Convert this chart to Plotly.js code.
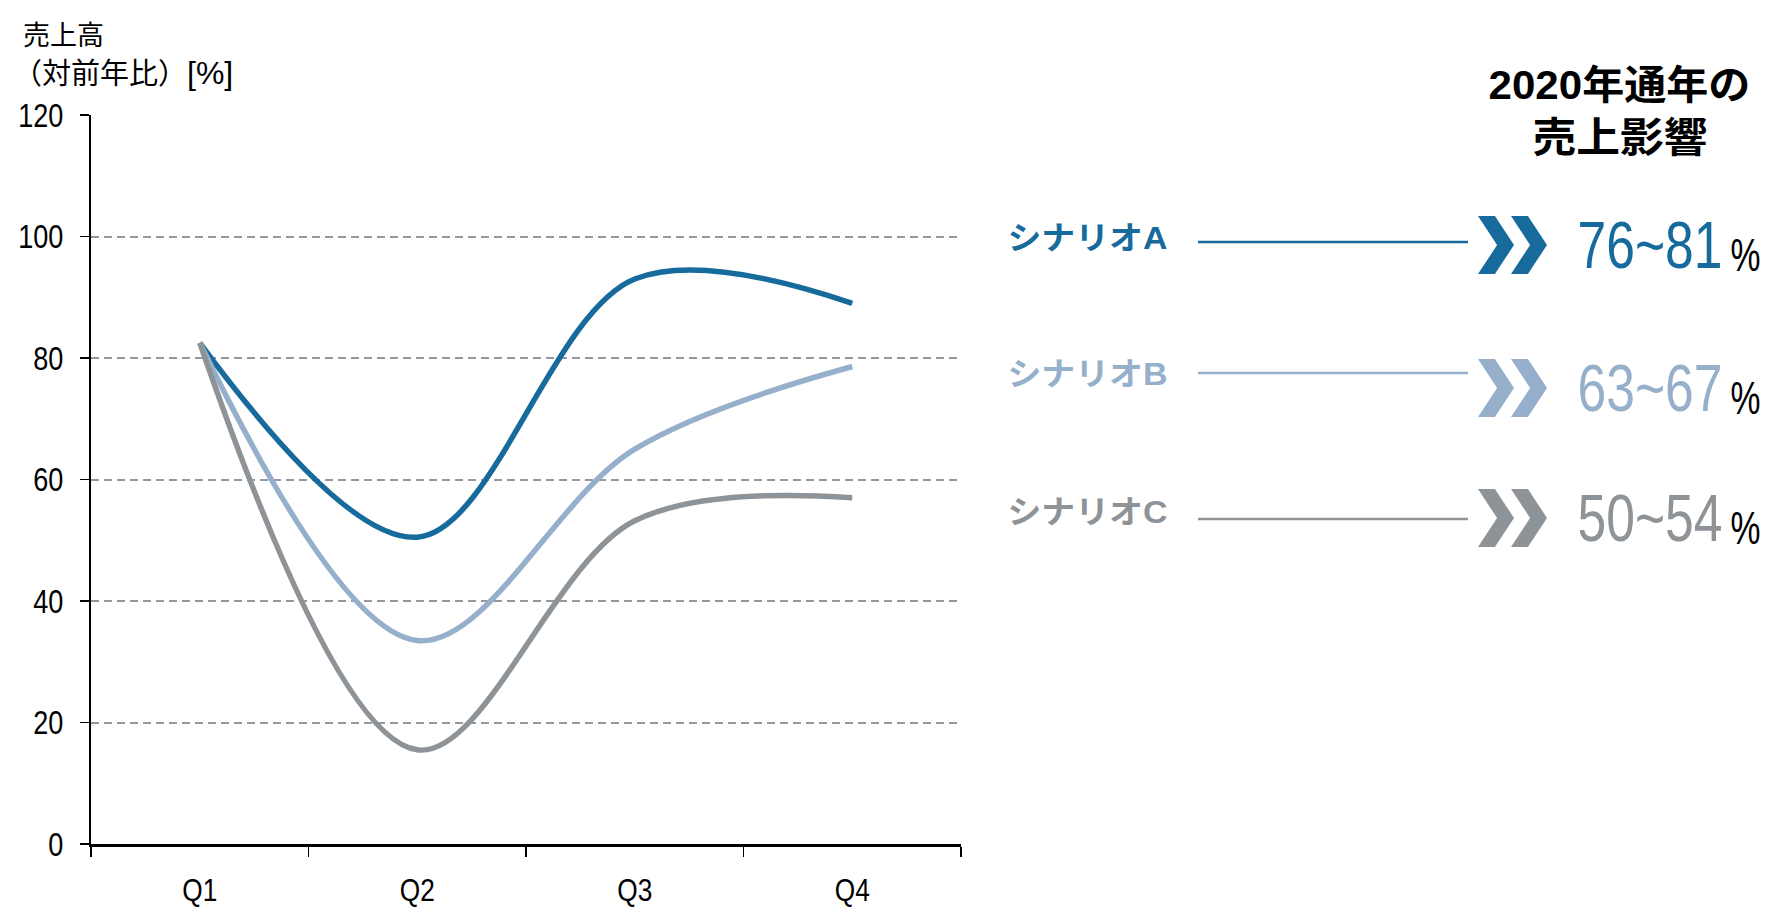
<!DOCTYPE html>
<html>
<head>
<meta charset="utf-8">
<script src="https://cdn.plot.ly/plotly-3.0.1.min.js"></script>
<style>html,body{margin:0;padding:0;background:#fff;}#chart{width:1769px;height:916px;}</style>
</head>
<body>
<div id="chart"></div>
<script>
// ---- data ----
const quarters = ["Q1", "Q2", "Q3", "Q4"];
const scenarioNames = ["シナリオA", "シナリオB", "シナリオC"];
const scenarioA = [82.5, 50.5, 93, 89];
const scenarioB = [82.5, 33.5, 65, 78.6];
const scenarioC = [82.5, 15.5, 53.2, 57];
const impactRanges = ["76~81", "63~67", "50~54"];
const yTicks = [0, 20, 40, 60, 80, 100, 120];
const colors = ["#176b9c", "#96b0cc", "#8e9398"];

// ---- geometry helpers (pixel -> paper) ----
const W = 1769, H = 916;
const L = 91, R = 961, T = 115, B = 844;
const px = x => (x - L) / (R - L);
const py = y => (B - y) / (B - T);

const SANS = '"Liberation Sans", Arial, sans-serif';
const JP = '"Noto Sans CJK JP", "Noto Sans", sans-serif';
const MIX = '"Liberation Sans", "Noto Sans CJK JP", sans-serif';

const series = [scenarioA, scenarioB, scenarioC];
const traces = series.map((vals, i) => ({
  type: 'scatter', mode: 'lines',
  x: quarters, y: vals, name: scenarioNames[i],
  line: {color: colors[i], width: 5.5, shape: 'spline', smoothing: 1},
  hoverinfo: 'skip', showlegend: false
}));

const shapes = [];
const annotations = [];
const fitWidths = []; // [annotation index, target width px]

function addAnn(a, width) {
  const ann = Object.assign({xref:'paper', yref:'paper', showarrow:false, yanchor:'middle', borderpad:0}, a);
  if (width) { ann.width = width; }
  annotations.push(ann);
  if (width) fitWidths.push([annotations.length - 1, width]);
}

// y title
addAnn({x: px(22), y: py(34), xanchor:'left', align:'left', text:'売上高', font:{family: JP, size: 27, color:'#000'}});
addAnn({x: px(12), y: py(71), xanchor:'left', align:'left',
  text:'（対前年比）<span style="font-family:Liberation Sans;font-size:32px">[%]</span>', font:{family: JP, size: 29, color:'#000'}});

// right side heading
addAnn({x: px(1620), y: py(85), xanchor:'center', align:'center', text:'<b>2020年通年の</b>', font:{family: MIX, size: 40, color:'#000'}}, 262);
addAnn({x: px(1620), y: py(134), xanchor:'center', align:'center', text:'<b>売上影響</b>', font:{family: JP, size: 41, color:'#000'}}, 175);

const rowLabelY = [238, 374, 512];
const rowLineY = [242, 373, 519];
const rowMarkY = [245, 388, 518];

for (let i = 0; i < 3; i++) {
  addAnn({x: px(1007), y: py(rowLabelY[i]), xanchor:'left', align:'left',
    text:'<b>' + scenarioNames[i] + '</b>', font:{family: MIX, size: 32, color: colors[i]}}, 160);
  shapes.push({type:'line', xref:'paper', yref:'paper', x0: px(1198), x1: px(1468), y0: py(rowLineY[i]), y1: py(rowLineY[i]),
    line:{color: colors[i], width: 2.5}});
  // double chevron
  const cy = rowMarkY[i], h = 58, w = 36;
  [1478, 1511].forEach(x0 => {
    const pts = [[x0, cy - h/2], [x0 + w*0.47, cy - h/2], [x0 + w, cy], [x0 + w*0.47, cy + h/2], [x0, cy + h/2], [x0 + w*0.53, cy]];
    const path = 'M ' + pts.map(p => px(p[0]) + ',' + py(p[1])).join(' L ') + ' Z';
    shapes.push({type:'path', xref:'paper', yref:'paper', path: path, fillcolor: colors[i], line:{width:0}});
  });
  addAnn({x: px(1577), y: py(rowMarkY[i]), xanchor:'left', align:'left',
    text: impactRanges[i], font:{family: SANS, size: 66, color: colors[i]}}, 145);
  addAnn({x: px(1730), y: py(rowMarkY[i] + 9), xanchor:'left', align:'left',
    text: '%', font:{family: SANS, size: 47, color: '#000'}}, 30);
}

const layout = {
  width: W, height: H,
  margin: {l: L, r: W - R, t: T, b: H - B, pad: 0},
  paper_bgcolor: '#fff', plot_bgcolor: '#fff',
  xaxis: {
    type: 'category', range: [-0.5, 3.5], tickson: 'boundaries',
    ticks: 'outside', ticklen: 10, tickwidth: 1.5, tickcolor: '#000',
    showline: true, linecolor: '#000', linewidth: 2.5,
    showgrid: false, zeroline: false,
    tickfont: {family: SANS, size: 32, color: '#000'},
    ticklabelstandoff: 16, fixedrange: true
  },
  yaxis: {
    range: [0, 120], tickvals: yTicks, ticktext: yTicks.map(String),
    ticks: 'outside', ticklen: 9, tickwidth: 1.5, tickcolor: '#000',
    showline: true, linecolor: '#000', linewidth: 2,
    showgrid: true, gridcolor: '#95989e', gridwidth: 2, griddash: '8px,5px',
    zeroline: false,
    tickfont: {family: SANS, size: 33, color: '#000'},
    ticklabelstandoff: 10, fixedrange: true
  },
  shapes: shapes,
  annotations: annotations,
  showlegend: false
};

// horizontally scale a text element about its anchor point (narrow-face look)
function squeeze(el, s) {
  const ax = parseFloat(el.getAttribute('x') || 0);
  const prev = el.getAttribute('transform') || '';
  el.setAttribute('transform', (prev + ' translate(' + ax + ',0) scale(' + s + ',1) translate(' + (-ax) + ',0)').trim());
}

Plotly.newPlot('chart', traces, layout, {displayModeBar: false, staticPlot: true}).then(() => {
  const root = document.getElementById('chart');
  // hide the top gridline at 120 (only a tick there in the reference)
  root.querySelectorAll('.ygrid').forEach(g => {
    const t = g.getAttribute('transform') || '';
    const m = t.match(/translate\(0,\s*([\d.]+)\)/);
    if (m && Math.abs(parseFloat(m[1]) - T) < 2) g.style.display = 'none';
  });
  // condensed look for tick labels
  root.querySelectorAll('.xtick text, .ytick text').forEach(t => squeeze(t, 0.82));
  // fit annotation texts to their measured widths, starting at the box's left edge
  const annGroups = root.querySelectorAll('.annotation');
  fitWidths.forEach(([idx, w]) => {
    const g = annGroups[idx];
    if (!g) return;
    const t = g.querySelector('.annotation-text');
    const rect = g.querySelector('rect.bg');
    // no clipping of the squeezed text
    g.querySelectorAll('[clip-path]').forEach(n => n.removeAttribute('clip-path'));
    t.removeAttribute('clip-path');
    const natural = t.getComputedTextLength();
    const anchor = t.getAttribute('text-anchor');
    const bx = rect ? parseFloat(rect.getAttribute('x') || 0) : 0;
    if (anchor === 'start') t.setAttribute('x', bx);
    else if (anchor === 'middle') t.setAttribute('x', bx + w / 2);
    squeeze(t, w / natural);
  });
});
</script>
</body>
</html>
